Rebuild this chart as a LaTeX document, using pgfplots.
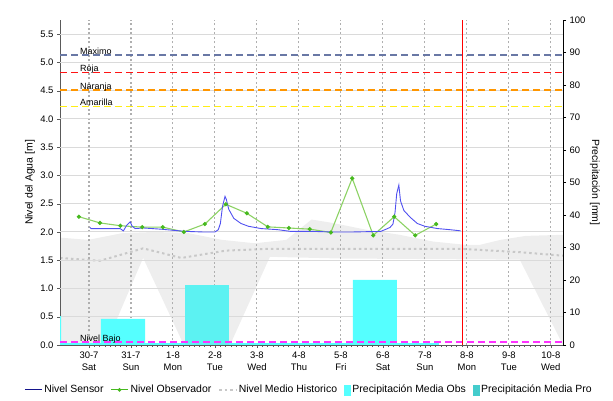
\documentclass[border=0pt]{standalone}
\usepackage{fontspec}
\setmainfont{Liberation Sans}
\usepackage{pgfplots}
\pgfplotsset{compat=1.18}
\definecolor{sensor}{RGB}{80,80,240}
\definecolor{sensorleg}{RGB}{20,20,140}
\definecolor{obsline}{RGB}{140,210,100}
\definecolor{obsmark}{RGB}{70,185,30}
\definecolor{bandc}{RGB}{238,238,238}
\definecolor{histc}{RGB}{200,200,200}
\definecolor{maximo}{RGB}{105,120,165}
\definecolor{roja}{RGB}{255,20,20}
\definecolor{naranja}{RGB}{255,150,0}
\definecolor{amarilla}{RGB}{255,238,20}
\definecolor{bajo}{RGB}{255,50,255}
\definecolor{pobs}{RGB}{85,255,255}
\definecolor{pobs2}{RGB}{92,242,242}
\definecolor{ppro}{RGB}{68,204,204}
\definecolor{gridc}{RGB}{175,175,175}
\definecolor{gridh}{RGB}{218,218,218}
\definecolor{axc}{RGB}{90,90,90}

\pgfplotsset{
  common/.style={
    at={(0,0)}, anchor=south west,
    scale only axis, width=503bp, height=325bp,
    xmin=-0.69, xmax=11.29,
    xtick={0,...,11},
    /pgf/number format/assume math mode=true,
    tick label style={font=\fontsize{9.5}{11}\selectfont},
    major tick length=3bp,
    tick align=outside,
    axis line style={axc},
    tick style={axc},
  },
}
\tikzset{gridln/.style={draw=gridc, line width=1.1bp, dash pattern=on 2bp off 2.5bp},
         gridhl/.style={draw=gridh, line width=1bp, solid}}

\begin{document}
\begin{tikzpicture}
% ---------- background: band, mean ----------
\begin{axis}[common,
  ymin=0, ymax=5.75,
  hide axis,
]
\addplot[fill=bandc, draw=none] coordinates {
(-0.69,1.90) (-0.02,1.86) (0.8,1.98) (1.57,2.00) (2.36,1.98) (3.17,1.86) (3.95,1.80) (4.7,1.86) (5.3,2.22) (5.8,2.16) (6.6,2.04) (7.4,1.95) (8.2,1.83) (9.0,1.77) (9.3,1.77) (9.8,1.86) (10.4,1.93) (11.29,1.95)
(11.29,0) (10.26,1.51) (6.0,1.53) (4.31,1.56) (3.36,0) (2.26,0) (1.29,1.54) (0.4,0) (-0.69,0)
};
\addplot[histc, line width=2bp, dash pattern=on 2.5bp off 3bp] coordinates {
(-0.69,1.54) (0.26,1.49) (1.29,1.71) (2.2,1.54) (3.26,1.67) (4.2,1.70) (8.9,1.70) (10.3,1.64) (11.29,1.58)
};
\end{axis}

% ---------- grid + left axis ----------
\begin{axis}[common,
  ymin=0, ymax=5.75,
  axis y line*=left, axis x line*=bottom,
  ytick={0,0.5,...,5.5},
  yticklabel style={/pgf/number format/fixed, /pgf/number format/fixed zerofill, /pgf/number format/precision=1},
  xticklabels={30-7\\Sat,31-7\\Sun,1-8\\Mon,2-8\\Tue,3-8\\Wed,4-8\\Thu,5-8\\Fri,6-8\\Sat,7-8\\Sun,8-8\\Mon,9-8\\Tue,10-8\\Wed},
  xticklabel style={align=center, font=\fontsize{9.5}{12}\selectfont},
  minor x tick num=7,
  minor tick length=2bp,
  xmajorgrids,
  major grid style={gridln},
  every axis y label/.style={at={([xshift=-30bp]axis description cs:0,0.5)}, rotate=90, anchor=center},
  ylabel={Nivel del Agua [m]},
  ylabel style={font=\fontsize{10.5}{12}\selectfont},
]
\addplot[gridhl, forget plot] coordinates {(-0.69,0.5) (11.29,0.5)};
\addplot[gridhl, forget plot] coordinates {(-0.69,1.0) (11.29,1.0)};
\addplot[gridhl, forget plot] coordinates {(-0.69,1.5) (11.29,1.5)};
\addplot[gridhl, forget plot] coordinates {(-0.69,2.0) (11.29,2.0)};
\addplot[gridhl, forget plot] coordinates {(-0.69,2.5) (11.29,2.5)};
\addplot[gridhl, forget plot] coordinates {(-0.69,3.0) (11.29,3.0)};
\addplot[gridhl, forget plot] coordinates {(-0.69,3.5) (11.29,3.5)};
\addplot[gridhl, forget plot] coordinates {(-0.69,4.0) (11.29,4.0)};
\addplot[gridhl, forget plot] coordinates {(-0.69,4.5) (11.29,4.5)};
\addplot[gridhl, forget plot] coordinates {(-0.69,5.0) (11.29,5.0)};
\addplot[gridhl, forget plot] coordinates {(-0.69,5.5) (11.29,5.5)};
\end{axis}

% ---------- precipitation axis (right) ----------
\begin{axis}[common,
  ymin=0, ymax=100,
  axis y line*=right, axis x line=none,
  ytick={0,10,...,100},
  every axis y label/.style={at={([xshift=32bp]axis description cs:1,0.5)}, rotate=-90, anchor=center},
  ylabel={Precipitación [mm]},
  ylabel style={font=\fontsize{10.5}{12}\selectfont},
  axis line style={black}, tick style={black},
]
\addplot[ybar, bar width=1.05, bar shift=0pt, fill=pobs, draw=none] coordinates {
(-1.19,8.9) (-0.19,0.6) (0.81,8.0) (1.81,0.6) (3.81,0.6) (4.81,0.6) (5.81,0.6) (6.81,20.0) (7.81,0.6)
};
\addplot[ybar, bar width=1.05, bar shift=0pt, fill=pobs2, draw=none] coordinates {
(2.81,18.5)
};
\end{axis}

% ---------- foreground lines ----------
\begin{axis}[common,
  ymin=0, ymax=5.75,
  hide axis,
  legend columns=5,
  legend style={at={(0.495,-0.138)}, anchor=center, draw=none, fill=none,
    font=\fontsize{10.5}{12}\selectfont,
    /tikz/every even column/.append style={column sep=5bp}},
]
% thresholds
\addplot[maximo, line width=1.6pt, dash pattern=on 7bp off 4bp, forget plot] coordinates {(-0.69,5.13) (11.29,5.13)};
\addplot[roja, line width=1.6pt, dash pattern=on 7bp off 4bp, forget plot] coordinates {(-0.69,4.82) (11.29,4.82)};
\addplot[naranja, line width=1.6pt, dash pattern=on 7bp off 4bp, forget plot] coordinates {(-0.69,4.51) (11.29,4.51)};
\addplot[amarilla, line width=1.6pt, dash pattern=on 7bp off 4bp, forget plot] coordinates {(-0.69,4.22) (11.29,4.22)};
\addplot[bajo, line width=1.6pt, dash pattern=on 7bp off 4bp, forget plot] coordinates {(-0.69,0.05) (11.29,0.05)};
% now line
\addplot[red, line width=0.8pt, forget plot] coordinates {(8.89,0) (8.89,5.75)};
% observer
\addplot[obsline, line width=1.1pt, mark=*, mark size=1.5bp, mark options={fill=obsmark, draw=obsmark}, forget plot] coordinates {
(-0.24,2.27) (0.26,2.16) (0.75,2.11) (1.27,2.085) (1.76,2.085) (2.26,2.00) (2.76,2.14) (3.26,2.49) (3.76,2.33) (4.26,2.09) (4.76,2.07) (5.26,2.05) (5.76,1.99) (6.27,2.95) (6.77,1.94) (7.27,2.27) (7.77,1.94) (8.27,2.14)
};
% sensor
\addplot[sensor, line width=0.9pt, forget plot] coordinates {
(0.02,2.08) (0.05,2.06) (0.4,2.06) (0.74,2.06) (0.82,2.02) (0.9,2.12) (0.98,2.18) (1.03,2.10) (1.1,2.06) (1.3,2.07) (1.7,2.05) (2.0,2.03) (2.3,2.01) (2.7,2.00) (3.0,2.00) (3.08,2.04) (3.13,2.15) (3.18,2.45) (3.24,2.63) (3.27,2.58) (3.33,2.40) (3.45,2.24) (3.62,2.15) (3.8,2.10) (4.1,2.06) (4.5,2.04) (4.8,2.01) (5.3,2.01) (5.8,2.00) (6.3,2.00) (6.95,2.01) (7.08,2.05) (7.17,2.08) (7.24,2.14) (7.29,2.35) (7.33,2.68) (7.38,2.83) (7.42,2.55) (7.5,2.38) (7.65,2.26) (7.82,2.15) (8.0,2.10) (8.3,2.06) (8.6,2.04) (8.85,2.02)
};
% labels
\node[anchor=base west, inner sep=0, font=\fontsize{9}{10}\selectfont] at (axis cs:-0.214,5.14) {Maximo};
\node[anchor=base west, inner sep=0, font=\fontsize{9}{10}\selectfont] at (axis cs:-0.214,4.83) {Roja};
\node[anchor=base west, inner sep=0, font=\fontsize{9}{10}\selectfont] at (axis cs:-0.214,4.52) {Naranja};
\node[anchor=base west, inner sep=0, font=\fontsize{9}{10}\selectfont] at (axis cs:-0.214,4.23) {Amarilla};
\node[anchor=base west, inner sep=0, font=\fontsize{9}{10}\selectfont] at (axis cs:-0.214,0.06) {Nivel Bajo};
% title
\node[anchor=base, font=\fontsize{10.5}{12}\selectfont] at ([yshift=6bp]axis description cs:0.501,1) {EL ALAMBRADO~~~[26127010] - CORRIENTE: LA VIEJA};
% legend
\addlegendimage{sensorleg, line width=1pt}
\addlegendentry{Nivel Sensor}
\addlegendimage{obsmark, line width=1pt, mark=*, mark size=1.3bp}
\addlegendentry{Nivel Observador}
\addlegendimage{histc, line width=1.5bp, dash pattern=on 2.5bp off 3bp}
\addlegendentry{Nivel Medio Historico}
\addlegendimage{legend image code/.code={\fill[pobs] (0bp,-5bp) rectangle (6bp,5bp);}}
\addlegendentry{Precipitación Media Obs}
\addlegendimage{legend image code/.code={\fill[ppro] (0bp,-5bp) rectangle (6bp,5bp);}}
\addlegendentry{Precipitación Media Pro}
\end{axis}
\path[use as bounding box] (-60bp,-56bp) rectangle (553bp,345bp);
\end{tikzpicture}
\end{document}
